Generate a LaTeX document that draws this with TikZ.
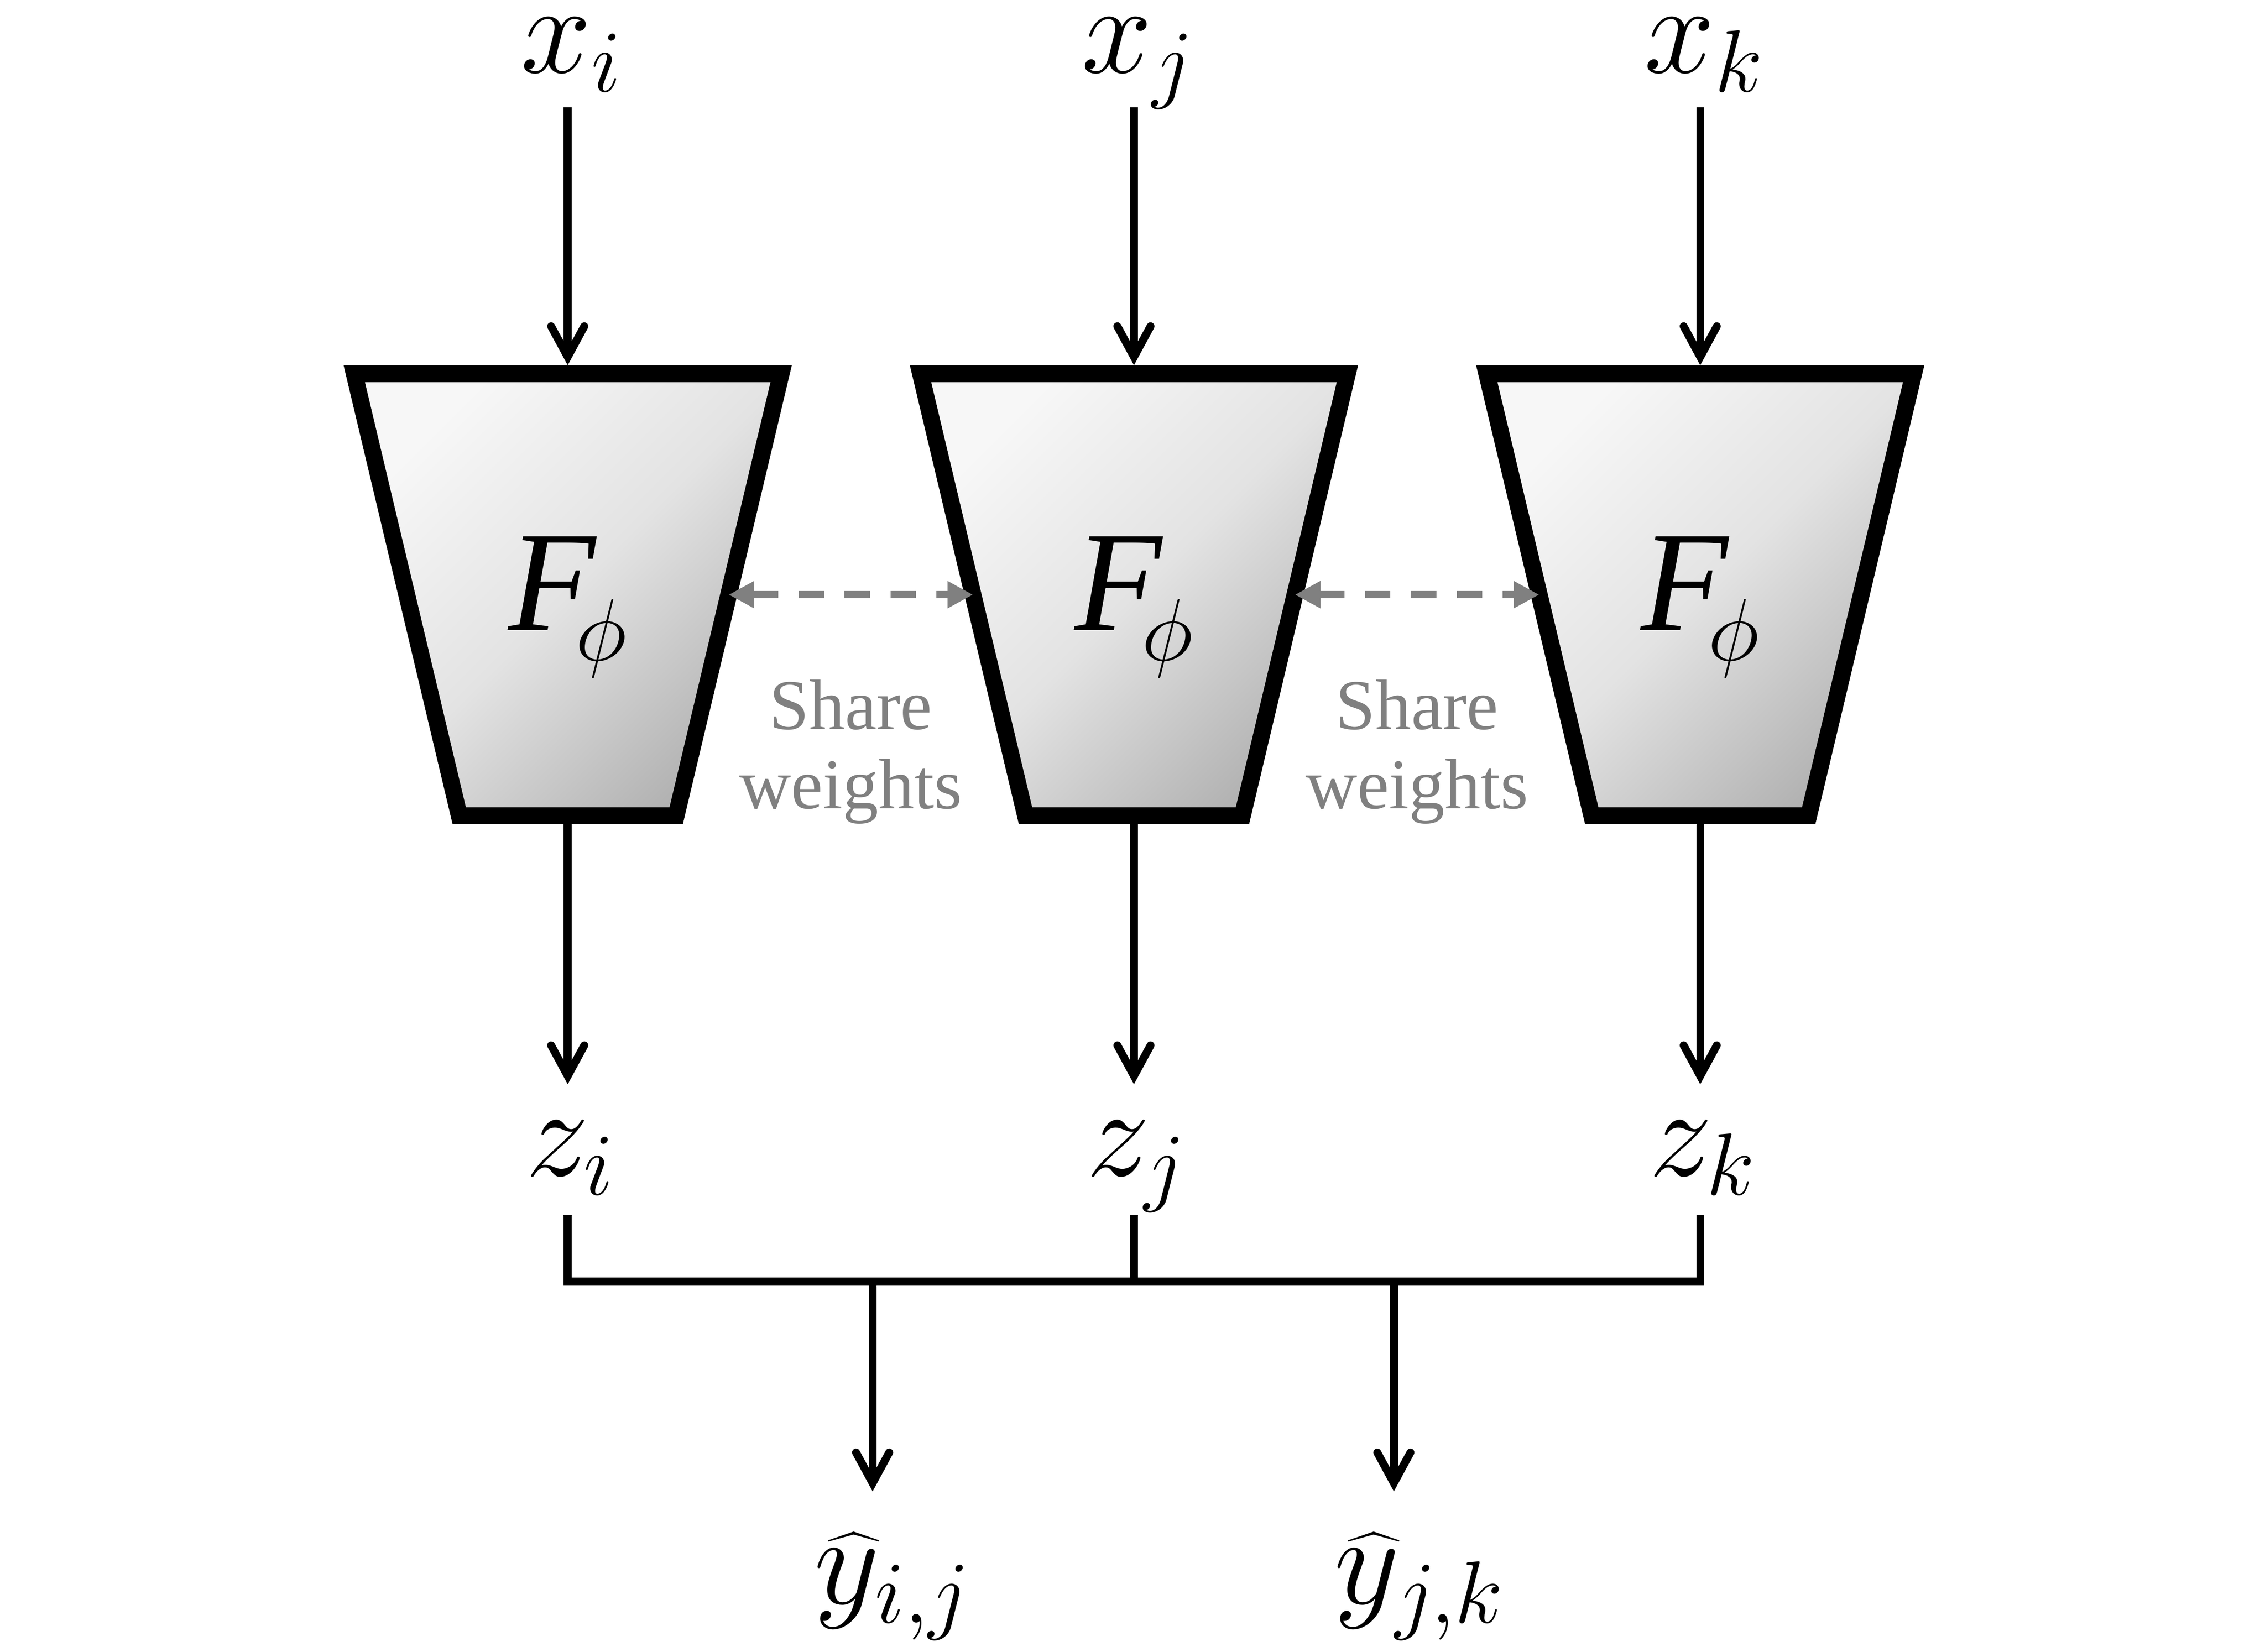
\documentclass[tikz,border=0pt]{standalone}
\usepackage{fontspec}
\newfontfamily\timesfont{Liberation Serif}
\usetikzlibrary{arrows.meta}
\definecolor{sharegray}{HTML}{808080}
\tikzset{
  conn/.style={line width=1.55pt, -{Straight Barb[length=6pt,width=6.5pt,line cap=round]}},
  busline/.style={line width=1.55pt, line join=miter},
  encoder/.style={draw=black, line width=3.3pt, line join=miter, top color=black!3, bottom color=black!30, middle color=black!11, shading angle=45},
  share/.style={draw=sharegray, line width=1.4pt, dash pattern=on 5pt off 4pt, {Triangle[length=5pt,width=5pt]}-{Triangle[length=5pt,width=5pt]}},
  mathlbl/.style={font=\fontsize{24}{28}\selectfont, inner sep=0pt, anchor=base},
  sharelbl/.style={font=\timesfont\fontsize{14}{15.6}\selectfont, text=sharegray, align=center, inner sep=0pt},
  flbl/.style={inner sep=0pt, anchor=base},
}
\begin{document}
\begin{tikzpicture}[x=0.01cm, y=-0.01cm]
\useasboundingbox (0,0) rectangle (1560,1138);
% encoders
\foreach \n/\cx/\s in {1/391/i, 2/781/j, 3/1171/k} {
  \path[encoder] ({\cx-147},257.5) -- ({\cx+147},257.5) -- ({\cx+74.7},562) -- ({\cx-74.7},562) -- cycle;
  \coordinate (t\n-in) at (\cx,251.6);
  \coordinate (t\n-out) at (\cx,567);
  \coordinate (t\n-l) at ({\cx-110.85},409.7);
  \coordinate (t\n-r) at ({\cx+110.85},409.7);
  \node[flbl] (F\n) at (\cx,434) {\fontsize{28}{30}\selectfont\timesfont\itshape F\kern-4pt\raisebox{-6pt}{\fontsize{17.28}{18}\selectfont$\phi$}};
  \node[mathlbl] (x\n) at ({\cx+3},50) {$x_{\s}$};
  \coordinate (x\n-o) at (\cx,74);
  \node[mathlbl] (z\n) at ({\cx+2},810) {$z_{\s}$};
  \coordinate (z\n-in) at (\cx,747);
  \coordinate (z\n-o) at (\cx,837);
  \draw[conn] (x\n-o) -- (t\n-in);
  \draw[conn] (t\n-out) -- (z\n-in);
}
% bus
\coordinate (bl) at (391,883);
\coordinate (bm) at (781,885);
\coordinate (br) at (1171,883);
\draw[busline] (z1-o) -- (bl) -- (br) -- (z3-o);
\draw[busline] (z2-o) -- (bm);
\coordinate (o1) at (601,883);
\coordinate (o2) at (960,883);
\coordinate (y1-in) at (601,1027.5);
\coordinate (y2-in) at (960,1027.5);
\draw[conn] (o1) -- (y1-in);
\draw[conn] (o2) -- (y2-in);
\node[mathlbl] (y1) at (615,1105) {$\widehat{y}_{i,j}$};
\node[mathlbl] (y2) at (978,1105) {$\widehat{y}_{j,k}$};
% share weights
\draw[share] (t1-r) -- (t2-l);
\draw[share] (t2-r) -- (t3-l);
\node[sharelbl] (s1) at (586,518) {Share\\weights};
\node[sharelbl] (s2) at (976,518) {Share\\weights};
\end{tikzpicture}
\end{document}
